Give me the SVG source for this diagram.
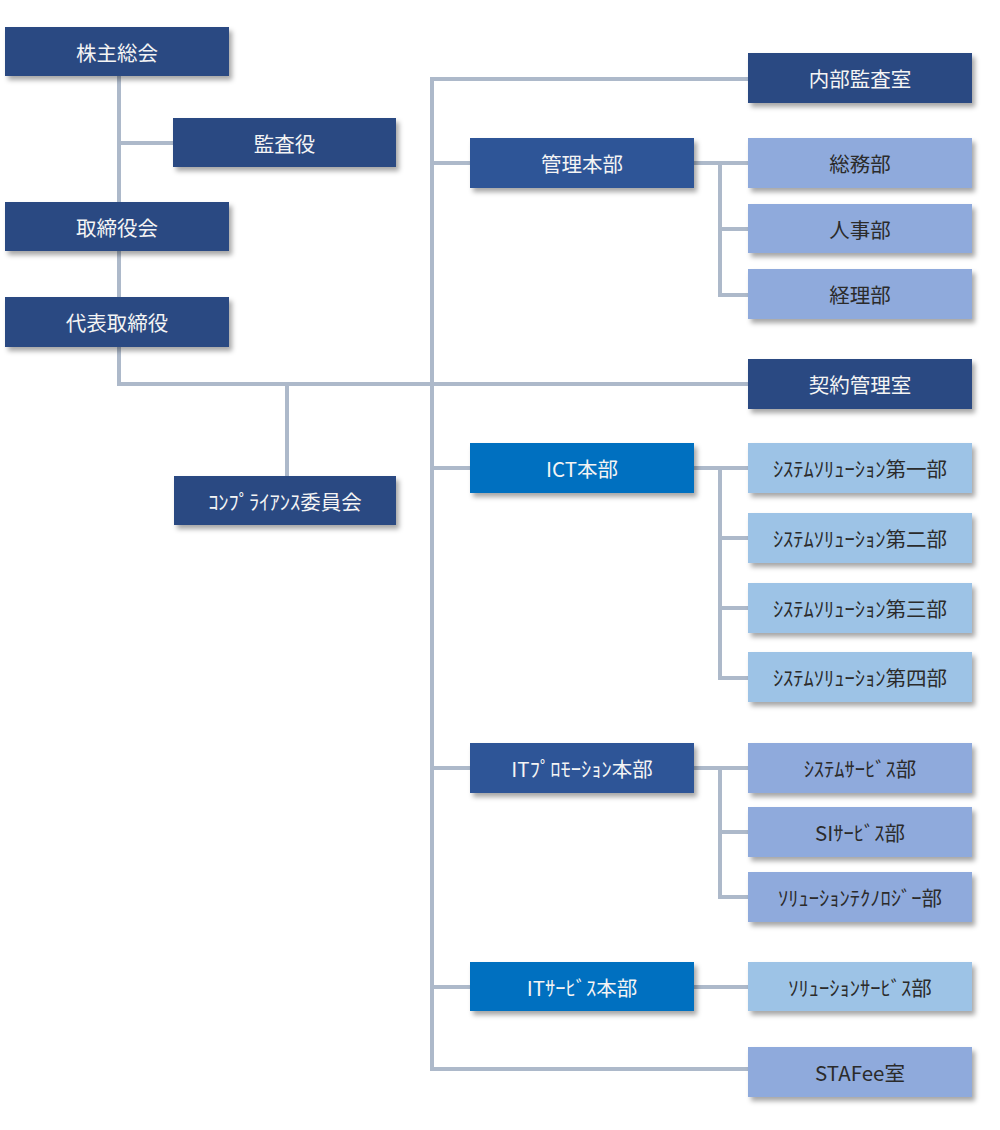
<svg xmlns="http://www.w3.org/2000/svg" width="1000" height="1130" viewBox="0 0 1000 1130">
<defs>
<filter id="sh" x="-10%" y="-20%" width="125%" height="160%">
<feDropShadow dx="3" dy="4" stdDeviation="2.5" flood-color="#000" flood-opacity="0.35"/>
</filter>
<style>
.n rect{filter:url(#sh)}
.d1 rect{fill:#294a82}
.d2 rect{fill:#2e5597}
.b rect{fill:#0070c0}
.l1 rect{fill:#8faadc}
.l2 rect{fill:#9dc3e6}
text{font-family:"Noto Sans CJK JP","Noto Sans",sans-serif;font-size:20.5px;text-anchor:middle;dominant-baseline:central}
.d1 text,.d2 text,.b text{fill:#f4f4f4}
.l1 text,.l2 text{fill:#2b2b2b}
.c{stroke:#adb9ca;stroke-width:4;fill:none}
</style>
</defs>
<rect width="1000" height="1130" fill="#ffffff"/>
<g id="connectors" class="c">
<path d="M119 76V384H748"/>
<path d="M119 143H173"/>
<path d="M287 384V476"/>
<path d="M748 79H432V1069H748"/>
<path d="M432 163H470M694 163H748M720 163V295H748M720 229H748"/>
<path d="M432 468H470M694 468H748M720 468V678H748M720 538H748M720 608H748"/>
<path d="M432 768H470M694 768H748M720 768V897H748M720 832H748"/>
<path d="M432 987H470M694 987H748"/>
</g>
<g id="n1" class="n d1"><rect x="5" y="27" width="224" height="49"/><text x="117" y="51.5">株主総会</text></g>
<g id="n2" class="n d1"><rect x="173" y="118" width="223" height="49"/><text x="284.5" y="142.5">監査役</text></g>
<g id="n3" class="n d1"><rect x="5" y="202" width="224" height="49"/><text x="117" y="226.5">取締役会</text></g>
<g id="n4" class="n d1"><rect x="5" y="297" width="224" height="50"/><text x="117" y="322">代表取締役</text></g>
<g id="n5" class="n d1"><rect x="174" y="476" width="222" height="49"/><text x="285" y="500.5">ｺﾝﾌﾟﾗｲｱﾝｽ委員会</text></g>
<g id="n6" class="n d1"><rect x="748" y="53" width="224" height="50"/><text x="860" y="78">内部監査室</text></g>
<g id="n7" class="n d2"><rect x="470" y="138" width="224" height="50"/><text x="582" y="163">管理本部</text></g>
<g id="n8" class="n l1"><rect x="748" y="138" width="224" height="50"/><text x="860" y="163">総務部</text></g>
<g id="n9" class="n l1"><rect x="748" y="204" width="224" height="49"/><text x="860" y="228.5">人事部</text></g>
<g id="n10" class="n l1"><rect x="748" y="269" width="224" height="50"/><text x="860" y="294">経理部</text></g>
<g id="n11" class="n d1"><rect x="748" y="359" width="224" height="50"/><text x="860" y="384">契約管理室</text></g>
<g id="n12" class="n b"><rect x="470" y="443" width="224" height="50"/><text x="582" y="468">ICT本部</text></g>
<g id="n13" class="n l2"><rect x="748" y="443" width="224" height="50"/><text x="860" y="468">ｼｽﾃﾑｿﾘｭｰｼｮﾝ第一部</text></g>
<g id="n14" class="n l2"><rect x="748" y="513" width="224" height="50"/><text x="860" y="538">ｼｽﾃﾑｿﾘｭｰｼｮﾝ第二部</text></g>
<g id="n15" class="n l2"><rect x="748" y="583" width="224" height="50"/><text x="860" y="608">ｼｽﾃﾑｿﾘｭｰｼｮﾝ第三部</text></g>
<g id="n16" class="n l2"><rect x="748" y="652" width="224" height="50"/><text x="860" y="677">ｼｽﾃﾑｿﾘｭｰｼｮﾝ第四部</text></g>
<g id="n17" class="n d2"><rect x="470" y="743" width="224" height="50"/><text x="582" y="768">ITﾌﾟﾛﾓｰｼｮﾝ本部</text></g>
<g id="n18" class="n l1"><rect x="748" y="743" width="224" height="50"/><text x="860" y="768">ｼｽﾃﾑｻｰﾋﾞｽ部</text></g>
<g id="n19" class="n l1"><rect x="748" y="807" width="224" height="50"/><text x="860" y="832">SIｻｰﾋﾞｽ部</text></g>
<g id="n20" class="n l1"><rect x="748" y="872" width="224" height="50"/><text x="860" y="897">ｿﾘｭｰｼｮﾝﾃｸﾉﾛｼﾞｰ部</text></g>
<g id="n21" class="n b"><rect x="470" y="962" width="224" height="49"/><text x="582" y="986.5">ITｻｰﾋﾞｽ本部</text></g>
<g id="n22" class="n l2"><rect x="748" y="962" width="224" height="49"/><text x="860" y="986.5">ｿﾘｭｰｼｮﾝｻｰﾋﾞｽ部</text></g>
<g id="n23" class="n l1"><rect x="748" y="1047" width="224" height="50"/><text x="860" y="1072">STAFee室</text></g>
</svg>
